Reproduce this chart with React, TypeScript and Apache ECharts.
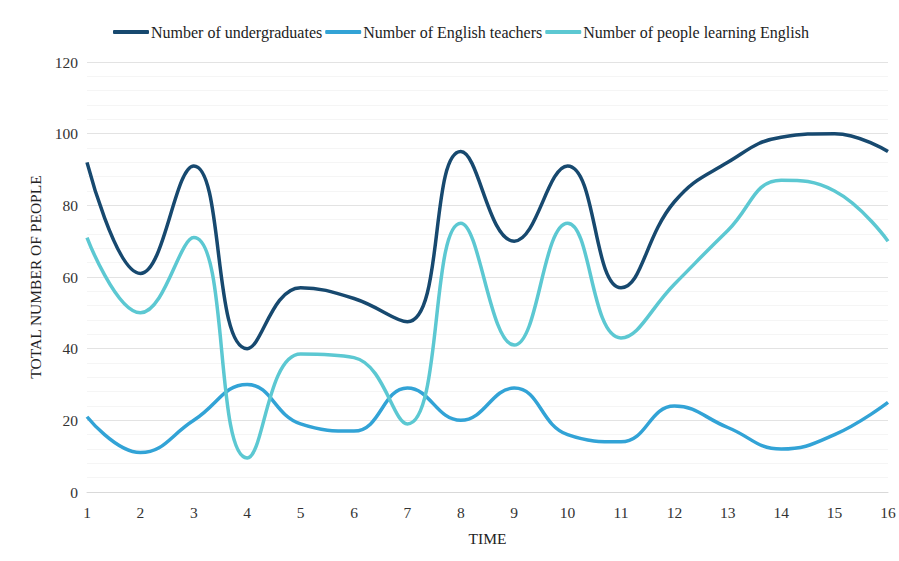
import React, { useEffect, useRef } from "react";
import * as echarts from "echarts";

const times = [1, 2, 3, 4, 5, 6, 7, 8, 9, 10, 11, 12, 13, 14, 15, 16];
const undergraduates = [92, 61, 91, 40, 57, 54, 47.5, 95, 70, 91, 57, 81, 92, 99, 100, 95];
const teachers = [21, 11, 20, 30, 19, 17, 29, 20, 29, 16, 14, 24, 18, 12, 16, 25];
const learners = [71, 50, 71, 9.5, 38.5, 37.5, 19, 75, 41, 75, 43, 58, 73, 87, 84, 70];
const seriesNames = ["Number of undergraduates", "Number of English teachers", "Number of people learning English"];
const colors = ["#17496f", "#32a3d6", "#5cc8d2"];

export default function App() {
  const ref = useRef<HTMLDivElement>(null);
  useEffect(() => {
    if (!ref.current) return;
    const chart = echarts.init(ref.current, undefined, { renderer: "svg" });
    const font = "Liberation Serif";
    const mk = (name: string, vals: number[], color: string) => ({
      name,
      type: "line",
      smooth: 0.45,
      symbol: "none",
      data: times.map((t, i) => [t, vals[i]]),
      lineStyle: { color, width: 3.5 },
      itemStyle: { color },
    });
    chart.setOption({
      animation: false,
      backgroundColor: "#ffffff",
      textStyle: { fontFamily: font },
      legend: {
        top: 19,
        left: 108,
        itemGap: 3,
        itemWidth: 36,
        itemHeight: 4,
        icon: "roundRect",
        textStyle: { fontFamily: font, fontSize: 16, color: "#222", padding: [0, 0, 0, -3] },
        data: seriesNames,
      },
      grid: { left: 87, right: 11, top: 62, bottom: 69, containLabel: false },
      xAxis: {
        type: "value",
        min: 1,
        max: 16,
        interval: 1,
        name: "TIME",
        nameLocation: "middle",
        nameGap: 38,
        nameTextStyle: { fontFamily: font, fontSize: 15.5, color: "#222" },
        axisLine: { show: true, lineStyle: { color: "#d9d9d9", width: 1 } },
        axisTick: { show: false },
        splitLine: { show: false },
        axisLabel: { fontFamily: font, fontSize: 15.5, color: "#333", margin: 12 },
      },
      yAxis: {
        type: "value",
        min: 0,
        max: 120,
        interval: 20,
        name: "TOTAL NUMBER OF PEOPLE",
        nameLocation: "middle",
        nameGap: 43,
        nameTextStyle: { fontFamily: font, fontSize: 15.5, color: "#222" },
        axisLine: { show: false },
        axisTick: { show: false },
        axisLabel: { fontFamily: font, fontSize: 15.5, color: "#333", margin: 9 },
        splitLine: { show: true, lineStyle: { color: "#e3e3e3", width: 1 } },
        minorTick: { show: false, splitNumber: 5 },
        minorSplitLine: { show: true, lineStyle: { color: "#f5f5f5", width: 1 } },
      },
      series: [
        mk(seriesNames[0], undergraduates, colors[0]),
        mk(seriesNames[1], teachers, colors[1]),
        mk(seriesNames[2], learners, colors[2]),
      ],
    });
    return () => chart.dispose();
  }, []);
  return (
    <div
      ref={ref}
      style={{ position: "absolute", left: 0, top: 0, width: 899, height: 561 }}
    />
  );
}
